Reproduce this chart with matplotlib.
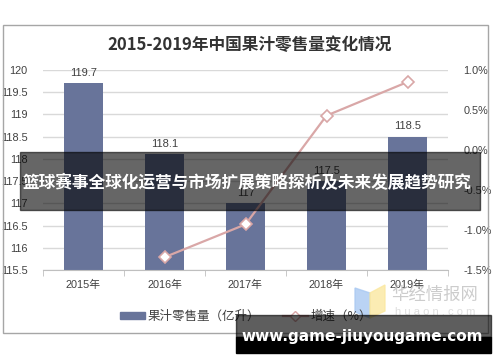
import matplotlib.pyplot as plt
import matplotlib.patches as mpatches
from matplotlib.ticker import FuncFormatter
import numpy as np

plt.rcParams['font.family'] = ['Liberation Sans', 'Noto Sans CJK SC', 'DejaVu Sans']

years = ['2015年', '2016年', '2017年', '2018年', '2019年']
volume = [119.7, 118.1, 117.0, 117.5, 118.5]          # 亿升
volume_labels = ['119.7', '118.1', '117', '117.5', '118.5']
growth = [None, -1.34, -0.93, 0.43, 0.85]              # %

bar_color = '#68749a'
line_color = '#d9a7a7'
text_color = '#404040'

fig = plt.figure(figsize=(5, 3.62), dpi=100)

# outer chart frame
fig.patches.append(mpatches.Rectangle((0.006, 0.080), 0.970, 0.851, transform=fig.transFigure,
                                      fill=False, edgecolor='#a6a6a6', linewidth=1.0, zorder=0))

ax = fig.add_axes([0.086, 0.2541, 0.810, 0.5525])
x = np.arange(len(years))
ax.bar(x, volume, width=0.49, color=bar_color, zorder=2)
for xi, v, lab in zip(x, volume, volume_labels):
    ax.annotate(lab, (xi, v), xytext=(0, 4), textcoords='offset points', ha='center', va='bottom',
                fontsize=8, color=text_color)

ax.set_ylim(115.5, 120)
ax.set_yticks(np.arange(115.5, 120.01, 0.5))
ax.yaxis.set_major_formatter(FuncFormatter(lambda v, p: f'{v:g}'))
ax.set_xlim(-0.5, 4.5)
ax.set_xticks(x)
ax.set_xticklabels(years)
ax.set_xticks(np.arange(-0.5, 4.51, 1), minor=True)
ax.grid(axis='y', color='#d9d9d9', linewidth=1.0, zorder=0)
ax.set_axisbelow(True)
for s in ['top', 'left', 'right']:
    ax.spines[s].set_visible(False)
ax.spines['bottom'].set_color('#bfbfbf')
ax.tick_params(axis='y', length=0, pad=11, labelsize=7.8, labelcolor=text_color)
ax.tick_params(axis='x', which='major', length=0, pad=7, labelsize=7.8, labelcolor=text_color)
ax.tick_params(axis='x', which='minor', length=4, color='#bfbfbf')

ax2 = ax.twinx()
gx = [xi for xi, g in zip(x, growth) if g is not None]
gy = [g for g in growth if g is not None]
ax2.plot(gx, gy, color=line_color, linewidth=1.6, marker='D', markersize=6,
         markerfacecolor='white', markeredgecolor=line_color, markeredgewidth=1.2, zorder=3)
ax2.set_ylim(-1.5, 1.0)
ax2.set_yticks(np.arange(-1.5, 1.01, 0.5))
ax2.yaxis.set_major_formatter(FuncFormatter(lambda v, p: f'{v:.1f}%'))
ax2.tick_params(axis='y', length=0, pad=11, labelsize=7.8, labelcolor=text_color)
for s in ax2.spines.values():
    s.set_visible(False)

fig.text(0.5, 1 - 45 / 362, '2015-2019年中国果汁零售量变化情况', ha='center', va='center',
         fontsize=12, fontweight='bold', color='#333333', family=['Noto Sans CJK SC'])

handles = [mpatches.Patch(color=bar_color),
           plt.Line2D([], [], color=line_color, linewidth=1.6, marker='D', markersize=5,
                      markerfacecolor='white', markeredgecolor=line_color)]
fig.legend(handles, ['果汁零售量（亿升）', '增速（%）'], loc='center', bbox_to_anchor=(0.492, 1 - 316 / 362),
           ncol=2, frameon=False, handlelength=2.0, handleheight=0.5, handletextpad=0.25,
           columnspacing=1.8, labelcolor=text_color, prop={'family': ['Noto Sans CJK SC'], 'size': 9})

# watermark
fig.patches.append(mpatches.Polygon([(355 / 500, 1 - 288 / 362), (370 / 500, 1 - 293 / 362),
                                     (370 / 500, 1 - 318 / 362), (355 / 500, 1 - 312 / 362)],
                                    closed=True, transform=fig.transFigure, color='#a9c9f2', alpha=0.8, zorder=5))
fig.patches.append(mpatches.Polygon([(370 / 500, 1 - 293 / 362), (385 / 500, 1 - 285 / 362),
                                     (385 / 500, 1 - 311 / 362), (370 / 500, 1 - 318 / 362)],
                                    closed=True, transform=fig.transFigure, color='#fbe8a0', alpha=0.8, zorder=5))
fig.text(435 / 500, 1 - 295 / 362, '华经情报网', ha='center', va='center', fontsize=12.5,
         color='#c4c4c4', alpha=0.85, family=['Noto Sans CJK SC'], zorder=5)
fig.text(435 / 500, 1 - 312 / 362, 'h u a o n . c o m', ha='center', va='center', fontsize=8,
         color='#dedede', zorder=5)

# banner overlay
fig.patches.append(mpatches.Rectangle((20 / 500, 1 - 210 / 362), 460 / 500, 58 / 362, transform=fig.transFigure,
                                      color='black', alpha=0.6, zorder=10))
fig.text(247 / 500, 1 - 183 / 362, '篮球赛事全球化运营与市场扩展策略探析及未来发展趋势研究', ha='center', va='center',
         fontsize=12, fontweight='bold', color='white', family=['Noto Sans CJK SC'], zorder=11)

# url overlay
fig.patches.append(mpatches.Rectangle((236 / 500, 1 - 337 / 362), 255 / 500, 22 / 362, transform=fig.transFigure,
                                      color='black', alpha=0.63, zorder=10))
fig.patches.append(mpatches.Rectangle((236 / 500, 1 - 353 / 362), 255 / 500, 16 / 362, transform=fig.transFigure,
                                      color='black', zorder=10))
fig.text(362 / 500, 1 - 336 / 362, 'www.game-jiuyougame.com', ha='center', va='center',
         fontsize=11, fontweight='bold', color='white', family=['DejaVu Sans'], zorder=11)

fig.savefig('out.png', dpi=100)
